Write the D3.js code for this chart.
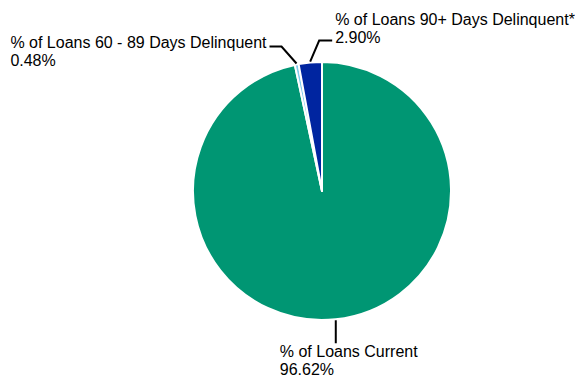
<!DOCTYPE html>
<html lang="en">
<head>
<meta charset="utf-8">
<title>Loan delinquency pie</title>
<script src="https://cdn.jsdelivr.net/npm/d3@7"></script>
<style>
  body { margin: 0; background: #fff; }
  text { font-family: "Liberation Sans", Arial, sans-serif; font-size: 16px; fill: #000; }
</style>
</head>
<body>
<script>
var labels = ["% of Loans Current", "% of Loans 60 - 89 Days Delinquent", "% of Loans 90+ Days Delinquent*"]
var values = [96.62, 0.48, 2.90]
var colors = ["#009673", "#7fcbec", "#0025a0"]

var width = 575, height = 377
var cx = 322, cy = 191, radius = 129

var svg = d3.select("body").append("svg")
    .attr("width", width)
    .attr("height", height)

var g = svg.append("g").attr("transform", "translate(" + cx + "," + cy + ")")

var pie = d3.pie().sort(null).value(function(d){ return d })
var arc = d3.arc().innerRadius(0).outerRadius(radius)
var arcs = pie(values)

g.selectAll("path.slice")
  .data(arcs)
  .enter()
  .append("path")
  .attr("class", "slice")
  .attr("d", arc)
  .attr("fill", function(d, i){ return colors[i] })
  .attr("stroke", "#fff")
  .attr("stroke-width", 2)
  .attr("stroke-linejoin", "round")

// leader lines from the slice edge, with label offsets relative to that point
var leader = [
  { elbow: [0, 23], end: [0, 23], right: false, tx: -56, ty: 37 },
  { elbow: [-15, -17], end: [-27, -17], right: true, tx: -30, ty: -16 },
  { elbow: [9, -21], end: [22, -21], right: false, tx: 25, ty: -37 }
]

arcs.forEach(function(d, i){
  var a = (d.startAngle + d.endAngle) / 2
  var x0 = Math.sin(a) * (radius + 1)
  var y0 = -Math.cos(a) * (radius + 1)
  var L = leader[i]
  var pts = [[x0, y0], [x0 + L.elbow[0], y0 + L.elbow[1]], [x0 + L.end[0], y0 + L.end[1]]]
  g.append("path")
    .attr("d", d3.line()(pts))
    .attr("fill", "none")
    .attr("stroke", "#000")
    .attr("stroke-width", 2)

  var lx = x0 + L.tx, ly = y0 + L.ty
  var t = g.append("text")
  var t1 = t.append("tspan").attr("x", lx).attr("y", ly).text(labels[i])
  if (L.right) {
    // block ends at the leader line, both lines left aligned
    lx = lx - t1.node().getComputedTextLength()
    t1.attr("x", lx)
  }
  t.append("tspan").attr("x", lx).attr("y", ly + 18)
    .text(values[i].toFixed(2) + "%")
})
</script>
</body>
</html>
